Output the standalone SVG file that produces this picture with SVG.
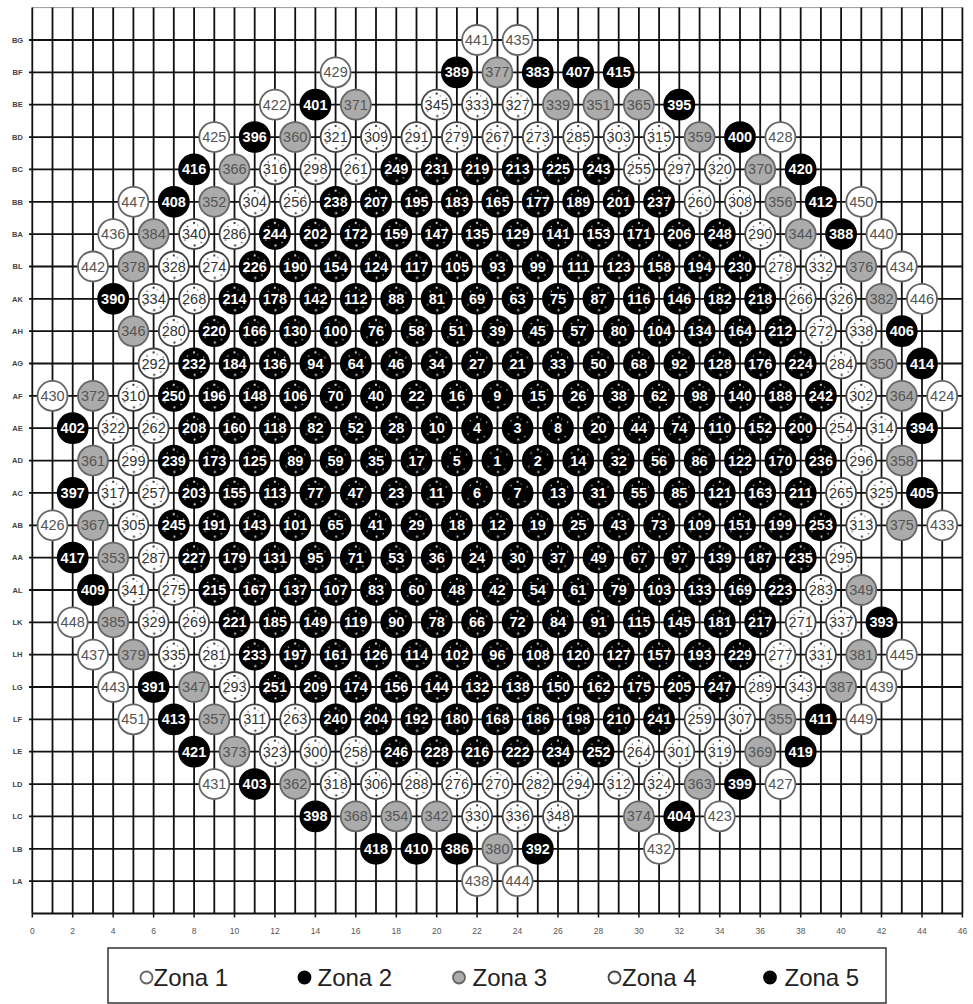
<svg xmlns="http://www.w3.org/2000/svg" width="973" height="1004" viewBox="0 0 973 1004">
<style>
text{font-family:"Liberation Sans",Arial,sans-serif;text-anchor:middle}
.nodes text{font-size:14.5px}
.nodes circle{stroke-width:1.8}
.z1 circle{fill:#fff;stroke:#666}
.z1 text{fill:#555}
.z2 circle{fill:#000;stroke:#000}
.z2 text{fill:#fff;font-weight:bold}
.z3 circle{fill:#ababab;stroke:#666}
.z3 text{fill:#555}
.z4 circle{fill:url(#p4);stroke:#444}
.z4 text{fill:#333}
.z5 circle{fill:url(#p5);stroke:#000}
.z5 text{fill:#fff;font-weight:bold}
.rl{font-size:7.5px;font-weight:bold;fill:#444}
.ax{font-size:8.5px;fill:#555}
.lg{font-size:24px;fill:#222;text-anchor:start}
</style>
<defs>
<pattern id="p4" patternUnits="objectBoundingBox" patternContentUnits="objectBoundingBox" width="1" height="1">
<rect width="1" height="1" fill="#fff"/>
<g fill="#222"><circle cx=".5" cy=".13" r=".035"/><circle cx=".52" cy=".88" r=".035"/><circle cx=".28" cy=".25" r=".025"/><circle cx=".74" cy=".78" r=".025"/><circle cx=".2" cy=".7" r=".025"/><circle cx=".82" cy=".3" r=".025"/><circle cx=".62" cy=".2" r=".02"/></g>
</pattern>
<pattern id="p5" patternUnits="objectBoundingBox" patternContentUnits="objectBoundingBox" width="1" height="1">
<rect width="1" height="1" fill="#000"/>
<g fill="#ddd"><circle cx=".5" cy=".13" r=".035"/><circle cx=".52" cy=".88" r=".035"/><circle cx=".28" cy=".25" r=".025"/><circle cx=".74" cy=".78" r=".025"/><circle cx=".2" cy=".7" r=".025"/><circle cx=".82" cy=".3" r=".025"/><circle cx=".62" cy=".2" r=".02"/></g>
</pattern>
</defs>
<rect width="973" height="1004" fill="#fff"/>
<g id="connectors">
<path d="M32.3 7.6H962.4" stroke="#999" stroke-width="1" fill="none"/>
<path stroke="#111" stroke-width="1.8" fill="none" d="M29 40H962.4M29 72.4H962.4M29 104.7H962.4M29 137.1H962.4M29 169.4H962.4M29 201.8H962.4M29 234.1H962.4M29 266.5H962.4M29 298.8H962.4M29 331.2H962.4M29 363.5H962.4M29 395.9H962.4M29 428.2H962.4M29 460.6H962.4M29 492.9H962.4M29 525.3H962.4M29 557.6H962.4M29 590H962.4M29 622.3H962.4M29 654.7H962.4M29 687H962.4M29 719.4H962.4M29 751.7H962.4M29 784.1H962.4M29 816.4H962.4M29 848.8H962.4M29 881.1H962.4M32.3 913.5H962.4"/>
<path stroke="#111" stroke-width="1.8" fill="none" d="M32.3 7.6v906M52.5 7.6v906M72.7 7.6v906M93 7.6v906M113.2 7.6v906M133.4 7.6v906M153.6 7.6v906M173.8 7.6v906M194.1 7.6v906M214.3 7.6v906M234.5 7.6v906M254.7 7.6v906M274.9 7.6v906M295.2 7.6v906M315.4 7.6v906M335.6 7.6v906M355.8 7.6v906M376 7.6v906M396.3 7.6v906M416.5 7.6v906M436.7 7.6v906M456.9 7.6v906M477.1 7.6v906M497.4 7.6v906M517.6 7.6v906M537.8 7.6v906M558 7.6v906M578.2 7.6v906M598.5 7.6v906M618.7 7.6v906M638.9 7.6v906M659.1 7.6v906M679.3 7.6v906M699.6 7.6v906M719.8 7.6v906M740 7.6v906M760.2 7.6v906M780.4 7.6v906M800.7 7.6v906M820.9 7.6v906M841.1 7.6v906M861.3 7.6v906M881.5 7.6v906M901.8 7.6v906M922 7.6v906M942.2 7.6v906M962.4 7.6v906"/>
<path stroke="#111" stroke-width="1.5" fill="none" d="M32.3 913.5v4M72.7 913.5v4M113.2 913.5v4M153.6 913.5v4M194.1 913.5v4M234.5 913.5v4M274.9 913.5v4M315.4 913.5v4M355.8 913.5v4M396.3 913.5v4M436.7 913.5v4M477.1 913.5v4M517.6 913.5v4M558 913.5v4M598.5 913.5v4M638.9 913.5v4M679.3 913.5v4M719.8 913.5v4M760.2 913.5v4M800.7 913.5v4M841.1 913.5v4M881.5 913.5v4M922 913.5v4M962.4 913.5v4"/>
</g>
<g id="row-labels" class="rl">
<text x="17.5" y="42.7">BG</text><text x="17.5" y="75.1">BF</text><text x="17.5" y="107.4">BE</text><text x="17.5" y="139.8">BD</text><text x="17.5" y="172.1">BC</text><text x="17.5" y="204.5">BB</text><text x="17.5" y="236.8">BA</text><text x="17.5" y="269.2">BL</text><text x="17.5" y="301.5">AK</text><text x="17.5" y="333.9">AH</text><text x="17.5" y="366.2">AG</text><text x="17.5" y="398.6">AF</text><text x="17.5" y="430.9">AE</text><text x="17.5" y="463.3">AD</text><text x="17.5" y="495.6">AC</text><text x="17.5" y="528">AB</text><text x="17.5" y="560.3">AA</text><text x="17.5" y="592.7">AL</text><text x="17.5" y="625">LK</text><text x="17.5" y="657.4">LH</text><text x="17.5" y="689.7">LG</text><text x="17.5" y="722.1">LF</text><text x="17.5" y="754.4">LE</text><text x="17.5" y="786.8">LD</text><text x="17.5" y="819.1">LC</text><text x="17.5" y="851.5">LB</text><text x="17.5" y="883.8">LA</text>
</g>
<g id="axis-labels" class="ax">
<text x="32.3" y="934">0</text><text x="72.7" y="934">2</text><text x="113.2" y="934">4</text><text x="153.6" y="934">6</text><text x="194.1" y="934">8</text><text x="234.5" y="934">10</text><text x="274.9" y="934">12</text><text x="315.4" y="934">14</text><text x="355.8" y="934">16</text><text x="396.3" y="934">18</text><text x="436.7" y="934">20</text><text x="477.1" y="934">22</text><text x="517.6" y="934">24</text><text x="558" y="934">26</text><text x="598.5" y="934">28</text><text x="638.9" y="934">30</text><text x="679.3" y="934">32</text><text x="719.8" y="934">34</text><text x="760.2" y="934">36</text><text x="800.7" y="934">38</text><text x="841.1" y="934">40</text><text x="881.5" y="934">42</text><text x="922" y="934">44</text><text x="962.4" y="934">46</text>
</g>
<g class="nodes">
<g id="n441" class="z1" transform="translate(477.1,40)"><circle r="15"/><text y="5">441</text></g>
<g id="n435" class="z1" transform="translate(517.6,40)"><circle r="15"/><text y="5">435</text></g>
<g id="n429" class="z1" transform="translate(335.6,72.4)"><circle r="15"/><text y="5">429</text></g>
<g id="n389" class="z2" transform="translate(456.9,72.4)"><circle r="15"/><text y="5">389</text></g>
<g id="n377" class="z3" transform="translate(497.4,72.4)"><circle r="15"/><text y="5">377</text></g>
<g id="n383" class="z2" transform="translate(537.8,72.4)"><circle r="15"/><text y="5">383</text></g>
<g id="n407" class="z2" transform="translate(578.2,72.4)"><circle r="15"/><text y="5">407</text></g>
<g id="n415" class="z2" transform="translate(618.7,72.4)"><circle r="15"/><text y="5">415</text></g>
<g id="n422" class="z1" transform="translate(274.9,104.7)"><circle r="15"/><text y="5">422</text></g>
<g id="n401" class="z2" transform="translate(315.4,104.7)"><circle r="15"/><text y="5">401</text></g>
<g id="n371" class="z3" transform="translate(355.8,104.7)"><circle r="15"/><text y="5">371</text></g>
<g id="n345" class="z4" transform="translate(436.7,104.7)"><circle r="15"/><text y="5">345</text></g>
<g id="n333" class="z4" transform="translate(477.1,104.7)"><circle r="15"/><text y="5">333</text></g>
<g id="n327" class="z4" transform="translate(517.6,104.7)"><circle r="15"/><text y="5">327</text></g>
<g id="n339" class="z3" transform="translate(558,104.7)"><circle r="15"/><text y="5">339</text></g>
<g id="n351" class="z3" transform="translate(598.5,104.7)"><circle r="15"/><text y="5">351</text></g>
<g id="n365" class="z3" transform="translate(638.9,104.7)"><circle r="15"/><text y="5">365</text></g>
<g id="n395" class="z2" transform="translate(679.3,104.7)"><circle r="15"/><text y="5">395</text></g>
<g id="n425" class="z1" transform="translate(214.3,137.1)"><circle r="15"/><text y="5">425</text></g>
<g id="n396" class="z2" transform="translate(254.7,137.1)"><circle r="15"/><text y="5">396</text></g>
<g id="n360" class="z3" transform="translate(295.2,137.1)"><circle r="15"/><text y="5">360</text></g>
<g id="n321" class="z4" transform="translate(335.6,137.1)"><circle r="15"/><text y="5">321</text></g>
<g id="n309" class="z4" transform="translate(376,137.1)"><circle r="15"/><text y="5">309</text></g>
<g id="n291" class="z4" transform="translate(416.5,137.1)"><circle r="15"/><text y="5">291</text></g>
<g id="n279" class="z4" transform="translate(456.9,137.1)"><circle r="15"/><text y="5">279</text></g>
<g id="n267" class="z4" transform="translate(497.4,137.1)"><circle r="15"/><text y="5">267</text></g>
<g id="n273" class="z4" transform="translate(537.8,137.1)"><circle r="15"/><text y="5">273</text></g>
<g id="n285" class="z4" transform="translate(578.2,137.1)"><circle r="15"/><text y="5">285</text></g>
<g id="n303" class="z4" transform="translate(618.7,137.1)"><circle r="15"/><text y="5">303</text></g>
<g id="n315" class="z4" transform="translate(659.1,137.1)"><circle r="15"/><text y="5">315</text></g>
<g id="n359" class="z3" transform="translate(699.6,137.1)"><circle r="15"/><text y="5">359</text></g>
<g id="n400" class="z2" transform="translate(740,137.1)"><circle r="15"/><text y="5">400</text></g>
<g id="n428" class="z1" transform="translate(780.4,137.1)"><circle r="15"/><text y="5">428</text></g>
<g id="n416" class="z2" transform="translate(194.1,169.4)"><circle r="15"/><text y="5">416</text></g>
<g id="n366" class="z3" transform="translate(234.5,169.4)"><circle r="15"/><text y="5">366</text></g>
<g id="n316" class="z4" transform="translate(274.9,169.4)"><circle r="15"/><text y="5">316</text></g>
<g id="n298" class="z4" transform="translate(315.4,169.4)"><circle r="15"/><text y="5">298</text></g>
<g id="n261" class="z4" transform="translate(355.8,169.4)"><circle r="15"/><text y="5">261</text></g>
<g id="n249" class="z5" transform="translate(396.3,169.4)"><circle r="15"/><text y="5">249</text></g>
<g id="n231" class="z5" transform="translate(436.7,169.4)"><circle r="15"/><text y="5">231</text></g>
<g id="n219" class="z5" transform="translate(477.1,169.4)"><circle r="15"/><text y="5">219</text></g>
<g id="n213" class="z5" transform="translate(517.6,169.4)"><circle r="15"/><text y="5">213</text></g>
<g id="n225" class="z5" transform="translate(558,169.4)"><circle r="15"/><text y="5">225</text></g>
<g id="n243" class="z5" transform="translate(598.5,169.4)"><circle r="15"/><text y="5">243</text></g>
<g id="n255" class="z4" transform="translate(638.9,169.4)"><circle r="15"/><text y="5">255</text></g>
<g id="n297" class="z4" transform="translate(679.3,169.4)"><circle r="15"/><text y="5">297</text></g>
<g id="n320" class="z4" transform="translate(719.8,169.4)"><circle r="15"/><text y="5">320</text></g>
<g id="n370" class="z3" transform="translate(760.2,169.4)"><circle r="15"/><text y="5">370</text></g>
<g id="n420" class="z2" transform="translate(800.7,169.4)"><circle r="15"/><text y="5">420</text></g>
<g id="n447" class="z1" transform="translate(133.4,201.8)"><circle r="15"/><text y="5">447</text></g>
<g id="n408" class="z2" transform="translate(173.8,201.8)"><circle r="15"/><text y="5">408</text></g>
<g id="n352" class="z3" transform="translate(214.3,201.8)"><circle r="15"/><text y="5">352</text></g>
<g id="n304" class="z4" transform="translate(254.7,201.8)"><circle r="15"/><text y="5">304</text></g>
<g id="n256" class="z4" transform="translate(295.2,201.8)"><circle r="15"/><text y="5">256</text></g>
<g id="n238" class="z5" transform="translate(335.6,201.8)"><circle r="15"/><text y="5">238</text></g>
<g id="n207" class="z5" transform="translate(376,201.8)"><circle r="15"/><text y="5">207</text></g>
<g id="n195" class="z5" transform="translate(416.5,201.8)"><circle r="15"/><text y="5">195</text></g>
<g id="n183" class="z5" transform="translate(456.9,201.8)"><circle r="15"/><text y="5">183</text></g>
<g id="n165" class="z5" transform="translate(497.4,201.8)"><circle r="15"/><text y="5">165</text></g>
<g id="n177" class="z5" transform="translate(537.8,201.8)"><circle r="15"/><text y="5">177</text></g>
<g id="n189" class="z5" transform="translate(578.2,201.8)"><circle r="15"/><text y="5">189</text></g>
<g id="n201" class="z5" transform="translate(618.7,201.8)"><circle r="15"/><text y="5">201</text></g>
<g id="n237" class="z5" transform="translate(659.1,201.8)"><circle r="15"/><text y="5">237</text></g>
<g id="n260" class="z4" transform="translate(699.6,201.8)"><circle r="15"/><text y="5">260</text></g>
<g id="n308" class="z4" transform="translate(740,201.8)"><circle r="15"/><text y="5">308</text></g>
<g id="n356" class="z3" transform="translate(780.4,201.8)"><circle r="15"/><text y="5">356</text></g>
<g id="n412" class="z2" transform="translate(820.9,201.8)"><circle r="15"/><text y="5">412</text></g>
<g id="n450" class="z1" transform="translate(861.3,201.8)"><circle r="15"/><text y="5">450</text></g>
<g id="n436" class="z1" transform="translate(113.2,234.1)"><circle r="15"/><text y="5">436</text></g>
<g id="n384" class="z3" transform="translate(153.6,234.1)"><circle r="15"/><text y="5">384</text></g>
<g id="n340" class="z4" transform="translate(194.1,234.1)"><circle r="15"/><text y="5">340</text></g>
<g id="n286" class="z4" transform="translate(234.5,234.1)"><circle r="15"/><text y="5">286</text></g>
<g id="n244" class="z5" transform="translate(274.9,234.1)"><circle r="15"/><text y="5">244</text></g>
<g id="n202" class="z5" transform="translate(315.4,234.1)"><circle r="15"/><text y="5">202</text></g>
<g id="n172" class="z5" transform="translate(355.8,234.1)"><circle r="15"/><text y="5">172</text></g>
<g id="n159" class="z5" transform="translate(396.3,234.1)"><circle r="15"/><text y="5">159</text></g>
<g id="n147" class="z5" transform="translate(436.7,234.1)"><circle r="15"/><text y="5">147</text></g>
<g id="n135" class="z5" transform="translate(477.1,234.1)"><circle r="15"/><text y="5">135</text></g>
<g id="n129" class="z5" transform="translate(517.6,234.1)"><circle r="15"/><text y="5">129</text></g>
<g id="n141" class="z5" transform="translate(558,234.1)"><circle r="15"/><text y="5">141</text></g>
<g id="n153" class="z5" transform="translate(598.5,234.1)"><circle r="15"/><text y="5">153</text></g>
<g id="n171" class="z5" transform="translate(638.9,234.1)"><circle r="15"/><text y="5">171</text></g>
<g id="n206" class="z5" transform="translate(679.3,234.1)"><circle r="15"/><text y="5">206</text></g>
<g id="n248" class="z5" transform="translate(719.8,234.1)"><circle r="15"/><text y="5">248</text></g>
<g id="n290" class="z4" transform="translate(760.2,234.1)"><circle r="15"/><text y="5">290</text></g>
<g id="n344" class="z3" transform="translate(800.7,234.1)"><circle r="15"/><text y="5">344</text></g>
<g id="n388" class="z2" transform="translate(841.1,234.1)"><circle r="15"/><text y="5">388</text></g>
<g id="n440" class="z1" transform="translate(881.5,234.1)"><circle r="15"/><text y="5">440</text></g>
<g id="n442" class="z1" transform="translate(93,266.5)"><circle r="15"/><text y="5">442</text></g>
<g id="n378" class="z3" transform="translate(133.4,266.5)"><circle r="15"/><text y="5">378</text></g>
<g id="n328" class="z4" transform="translate(173.8,266.5)"><circle r="15"/><text y="5">328</text></g>
<g id="n274" class="z4" transform="translate(214.3,266.5)"><circle r="15"/><text y="5">274</text></g>
<g id="n226" class="z5" transform="translate(254.7,266.5)"><circle r="15"/><text y="5">226</text></g>
<g id="n190" class="z5" transform="translate(295.2,266.5)"><circle r="15"/><text y="5">190</text></g>
<g id="n154" class="z5" transform="translate(335.6,266.5)"><circle r="15"/><text y="5">154</text></g>
<g id="n124" class="z5" transform="translate(376,266.5)"><circle r="15"/><text y="5">124</text></g>
<g id="n117" class="z5" transform="translate(416.5,266.5)"><circle r="15"/><text y="5">117</text></g>
<g id="n105" class="z5" transform="translate(456.9,266.5)"><circle r="15"/><text y="5">105</text></g>
<g id="n93" class="z5" transform="translate(497.4,266.5)"><circle r="15"/><text y="5">93</text></g>
<g id="n99" class="z5" transform="translate(537.8,266.5)"><circle r="15"/><text y="5">99</text></g>
<g id="n111" class="z5" transform="translate(578.2,266.5)"><circle r="15"/><text y="5">111</text></g>
<g id="n123" class="z5" transform="translate(618.7,266.5)"><circle r="15"/><text y="5">123</text></g>
<g id="n158" class="z5" transform="translate(659.1,266.5)"><circle r="15"/><text y="5">158</text></g>
<g id="n194" class="z5" transform="translate(699.6,266.5)"><circle r="15"/><text y="5">194</text></g>
<g id="n230" class="z5" transform="translate(740,266.5)"><circle r="15"/><text y="5">230</text></g>
<g id="n278" class="z4" transform="translate(780.4,266.5)"><circle r="15"/><text y="5">278</text></g>
<g id="n332" class="z4" transform="translate(820.9,266.5)"><circle r="15"/><text y="5">332</text></g>
<g id="n376" class="z3" transform="translate(861.3,266.5)"><circle r="15"/><text y="5">376</text></g>
<g id="n434" class="z1" transform="translate(901.8,266.5)"><circle r="15"/><text y="5">434</text></g>
<g id="n390" class="z2" transform="translate(113.2,298.8)"><circle r="15"/><text y="5">390</text></g>
<g id="n334" class="z4" transform="translate(153.6,298.8)"><circle r="15"/><text y="5">334</text></g>
<g id="n268" class="z4" transform="translate(194.1,298.8)"><circle r="15"/><text y="5">268</text></g>
<g id="n214" class="z5" transform="translate(234.5,298.8)"><circle r="15"/><text y="5">214</text></g>
<g id="n178" class="z5" transform="translate(274.9,298.8)"><circle r="15"/><text y="5">178</text></g>
<g id="n142" class="z5" transform="translate(315.4,298.8)"><circle r="15"/><text y="5">142</text></g>
<g id="n112" class="z5" transform="translate(355.8,298.8)"><circle r="15"/><text y="5">112</text></g>
<g id="n88" class="z5" transform="translate(396.3,298.8)"><circle r="15"/><text y="5">88</text></g>
<g id="n81" class="z5" transform="translate(436.7,298.8)"><circle r="15"/><text y="5">81</text></g>
<g id="n69" class="z5" transform="translate(477.1,298.8)"><circle r="15"/><text y="5">69</text></g>
<g id="n63" class="z5" transform="translate(517.6,298.8)"><circle r="15"/><text y="5">63</text></g>
<g id="n75" class="z5" transform="translate(558,298.8)"><circle r="15"/><text y="5">75</text></g>
<g id="n87" class="z5" transform="translate(598.5,298.8)"><circle r="15"/><text y="5">87</text></g>
<g id="n116" class="z5" transform="translate(638.9,298.8)"><circle r="15"/><text y="5">116</text></g>
<g id="n146" class="z5" transform="translate(679.3,298.8)"><circle r="15"/><text y="5">146</text></g>
<g id="n182" class="z5" transform="translate(719.8,298.8)"><circle r="15"/><text y="5">182</text></g>
<g id="n218" class="z5" transform="translate(760.2,298.8)"><circle r="15"/><text y="5">218</text></g>
<g id="n266" class="z4" transform="translate(800.7,298.8)"><circle r="15"/><text y="5">266</text></g>
<g id="n326" class="z4" transform="translate(841.1,298.8)"><circle r="15"/><text y="5">326</text></g>
<g id="n382" class="z3" transform="translate(881.5,298.8)"><circle r="15"/><text y="5">382</text></g>
<g id="n446" class="z1" transform="translate(922,298.8)"><circle r="15"/><text y="5">446</text></g>
<g id="n346" class="z3" transform="translate(133.4,331.2)"><circle r="15"/><text y="5">346</text></g>
<g id="n280" class="z4" transform="translate(173.8,331.2)"><circle r="15"/><text y="5">280</text></g>
<g id="n220" class="z5" transform="translate(214.3,331.2)"><circle r="15"/><text y="5">220</text></g>
<g id="n166" class="z5" transform="translate(254.7,331.2)"><circle r="15"/><text y="5">166</text></g>
<g id="n130" class="z5" transform="translate(295.2,331.2)"><circle r="15"/><text y="5">130</text></g>
<g id="n100" class="z5" transform="translate(335.6,331.2)"><circle r="15"/><text y="5">100</text></g>
<g id="n76" class="z5" transform="translate(376,331.2)"><circle r="15"/><text y="5">76</text></g>
<g id="n58" class="z5" transform="translate(416.5,331.2)"><circle r="15"/><text y="5">58</text></g>
<g id="n51" class="z5" transform="translate(456.9,331.2)"><circle r="15"/><text y="5">51</text></g>
<g id="n39" class="z5" transform="translate(497.4,331.2)"><circle r="15"/><text y="5">39</text></g>
<g id="n45" class="z5" transform="translate(537.8,331.2)"><circle r="15"/><text y="5">45</text></g>
<g id="n57" class="z5" transform="translate(578.2,331.2)"><circle r="15"/><text y="5">57</text></g>
<g id="n80" class="z5" transform="translate(618.7,331.2)"><circle r="15"/><text y="5">80</text></g>
<g id="n104" class="z5" transform="translate(659.1,331.2)"><circle r="15"/><text y="5">104</text></g>
<g id="n134" class="z5" transform="translate(699.6,331.2)"><circle r="15"/><text y="5">134</text></g>
<g id="n164" class="z5" transform="translate(740,331.2)"><circle r="15"/><text y="5">164</text></g>
<g id="n212" class="z5" transform="translate(780.4,331.2)"><circle r="15"/><text y="5">212</text></g>
<g id="n272" class="z4" transform="translate(820.9,331.2)"><circle r="15"/><text y="5">272</text></g>
<g id="n338" class="z4" transform="translate(861.3,331.2)"><circle r="15"/><text y="5">338</text></g>
<g id="n406" class="z2" transform="translate(901.8,331.2)"><circle r="15"/><text y="5">406</text></g>
<g id="n292" class="z4" transform="translate(153.6,363.5)"><circle r="15"/><text y="5">292</text></g>
<g id="n232" class="z5" transform="translate(194.1,363.5)"><circle r="15"/><text y="5">232</text></g>
<g id="n184" class="z5" transform="translate(234.5,363.5)"><circle r="15"/><text y="5">184</text></g>
<g id="n136" class="z5" transform="translate(274.9,363.5)"><circle r="15"/><text y="5">136</text></g>
<g id="n94" class="z5" transform="translate(315.4,363.5)"><circle r="15"/><text y="5">94</text></g>
<g id="n64" class="z5" transform="translate(355.8,363.5)"><circle r="15"/><text y="5">64</text></g>
<g id="n46" class="z5" transform="translate(396.3,363.5)"><circle r="15"/><text y="5">46</text></g>
<g id="n34" class="z5" transform="translate(436.7,363.5)"><circle r="15"/><text y="5">34</text></g>
<g id="n27" class="z5" transform="translate(477.1,363.5)"><circle r="15"/><text y="5">27</text></g>
<g id="n21" class="z5" transform="translate(517.6,363.5)"><circle r="15"/><text y="5">21</text></g>
<g id="n33" class="z5" transform="translate(558,363.5)"><circle r="15"/><text y="5">33</text></g>
<g id="n50" class="z5" transform="translate(598.5,363.5)"><circle r="15"/><text y="5">50</text></g>
<g id="n68" class="z5" transform="translate(638.9,363.5)"><circle r="15"/><text y="5">68</text></g>
<g id="n92" class="z5" transform="translate(679.3,363.5)"><circle r="15"/><text y="5">92</text></g>
<g id="n128" class="z5" transform="translate(719.8,363.5)"><circle r="15"/><text y="5">128</text></g>
<g id="n176" class="z5" transform="translate(760.2,363.5)"><circle r="15"/><text y="5">176</text></g>
<g id="n224" class="z5" transform="translate(800.7,363.5)"><circle r="15"/><text y="5">224</text></g>
<g id="n284" class="z4" transform="translate(841.1,363.5)"><circle r="15"/><text y="5">284</text></g>
<g id="n350" class="z3" transform="translate(881.5,363.5)"><circle r="15"/><text y="5">350</text></g>
<g id="n414" class="z2" transform="translate(922,363.5)"><circle r="15"/><text y="5">414</text></g>
<g id="n430" class="z1" transform="translate(52.5,395.9)"><circle r="15"/><text y="5">430</text></g>
<g id="n372" class="z3" transform="translate(93,395.9)"><circle r="15"/><text y="5">372</text></g>
<g id="n310" class="z4" transform="translate(133.4,395.9)"><circle r="15"/><text y="5">310</text></g>
<g id="n250" class="z5" transform="translate(173.8,395.9)"><circle r="15"/><text y="5">250</text></g>
<g id="n196" class="z5" transform="translate(214.3,395.9)"><circle r="15"/><text y="5">196</text></g>
<g id="n148" class="z5" transform="translate(254.7,395.9)"><circle r="15"/><text y="5">148</text></g>
<g id="n106" class="z5" transform="translate(295.2,395.9)"><circle r="15"/><text y="5">106</text></g>
<g id="n70" class="z5" transform="translate(335.6,395.9)"><circle r="15"/><text y="5">70</text></g>
<g id="n40" class="z5" transform="translate(376,395.9)"><circle r="15"/><text y="5">40</text></g>
<g id="n22" class="z5" transform="translate(416.5,395.9)"><circle r="15"/><text y="5">22</text></g>
<g id="n16" class="z5" transform="translate(456.9,395.9)"><circle r="15"/><text y="5">16</text></g>
<g id="n9" class="z5" transform="translate(497.4,395.9)"><circle r="15"/><text y="5">9</text></g>
<g id="n15" class="z5" transform="translate(537.8,395.9)"><circle r="15"/><text y="5">15</text></g>
<g id="n26" class="z5" transform="translate(578.2,395.9)"><circle r="15"/><text y="5">26</text></g>
<g id="n38" class="z5" transform="translate(618.7,395.9)"><circle r="15"/><text y="5">38</text></g>
<g id="n62" class="z5" transform="translate(659.1,395.9)"><circle r="15"/><text y="5">62</text></g>
<g id="n98" class="z5" transform="translate(699.6,395.9)"><circle r="15"/><text y="5">98</text></g>
<g id="n140" class="z5" transform="translate(740,395.9)"><circle r="15"/><text y="5">140</text></g>
<g id="n188" class="z5" transform="translate(780.4,395.9)"><circle r="15"/><text y="5">188</text></g>
<g id="n242" class="z5" transform="translate(820.9,395.9)"><circle r="15"/><text y="5">242</text></g>
<g id="n302" class="z4" transform="translate(861.3,395.9)"><circle r="15"/><text y="5">302</text></g>
<g id="n364" class="z3" transform="translate(901.8,395.9)"><circle r="15"/><text y="5">364</text></g>
<g id="n424" class="z1" transform="translate(942.2,395.9)"><circle r="15"/><text y="5">424</text></g>
<g id="n402" class="z2" transform="translate(72.7,428.2)"><circle r="15"/><text y="5">402</text></g>
<g id="n322" class="z4" transform="translate(113.2,428.2)"><circle r="15"/><text y="5">322</text></g>
<g id="n262" class="z4" transform="translate(153.6,428.2)"><circle r="15"/><text y="5">262</text></g>
<g id="n208" class="z5" transform="translate(194.1,428.2)"><circle r="15"/><text y="5">208</text></g>
<g id="n160" class="z5" transform="translate(234.5,428.2)"><circle r="15"/><text y="5">160</text></g>
<g id="n118" class="z5" transform="translate(274.9,428.2)"><circle r="15"/><text y="5">118</text></g>
<g id="n82" class="z5" transform="translate(315.4,428.2)"><circle r="15"/><text y="5">82</text></g>
<g id="n52" class="z5" transform="translate(355.8,428.2)"><circle r="15"/><text y="5">52</text></g>
<g id="n28" class="z5" transform="translate(396.3,428.2)"><circle r="15"/><text y="5">28</text></g>
<g id="n10" class="z5" transform="translate(436.7,428.2)"><circle r="15"/><text y="5">10</text></g>
<g id="n4" class="z5" transform="translate(477.1,428.2)"><circle r="15"/><text y="5">4</text></g>
<g id="n3" class="z5" transform="translate(517.6,428.2)"><circle r="15"/><text y="5">3</text></g>
<g id="n8" class="z5" transform="translate(558,428.2)"><circle r="15"/><text y="5">8</text></g>
<g id="n20" class="z5" transform="translate(598.5,428.2)"><circle r="15"/><text y="5">20</text></g>
<g id="n44" class="z5" transform="translate(638.9,428.2)"><circle r="15"/><text y="5">44</text></g>
<g id="n74" class="z5" transform="translate(679.3,428.2)"><circle r="15"/><text y="5">74</text></g>
<g id="n110" class="z5" transform="translate(719.8,428.2)"><circle r="15"/><text y="5">110</text></g>
<g id="n152" class="z5" transform="translate(760.2,428.2)"><circle r="15"/><text y="5">152</text></g>
<g id="n200" class="z5" transform="translate(800.7,428.2)"><circle r="15"/><text y="5">200</text></g>
<g id="n254" class="z4" transform="translate(841.1,428.2)"><circle r="15"/><text y="5">254</text></g>
<g id="n314" class="z4" transform="translate(881.5,428.2)"><circle r="15"/><text y="5">314</text></g>
<g id="n394" class="z2" transform="translate(922,428.2)"><circle r="15"/><text y="5">394</text></g>
<g id="n361" class="z3" transform="translate(93,460.6)"><circle r="15"/><text y="5">361</text></g>
<g id="n299" class="z4" transform="translate(133.4,460.6)"><circle r="15"/><text y="5">299</text></g>
<g id="n239" class="z5" transform="translate(173.8,460.6)"><circle r="15"/><text y="5">239</text></g>
<g id="n173" class="z5" transform="translate(214.3,460.6)"><circle r="15"/><text y="5">173</text></g>
<g id="n125" class="z5" transform="translate(254.7,460.6)"><circle r="15"/><text y="5">125</text></g>
<g id="n89" class="z5" transform="translate(295.2,460.6)"><circle r="15"/><text y="5">89</text></g>
<g id="n59" class="z5" transform="translate(335.6,460.6)"><circle r="15"/><text y="5">59</text></g>
<g id="n35" class="z5" transform="translate(376,460.6)"><circle r="15"/><text y="5">35</text></g>
<g id="n17" class="z5" transform="translate(416.5,460.6)"><circle r="15"/><text y="5">17</text></g>
<g id="n5" class="z5" transform="translate(456.9,460.6)"><circle r="15"/><text y="5">5</text></g>
<g id="n1" class="z5" transform="translate(497.4,460.6)"><circle r="15"/><text y="5">1</text></g>
<g id="n2" class="z5" transform="translate(537.8,460.6)"><circle r="15"/><text y="5">2</text></g>
<g id="n14" class="z5" transform="translate(578.2,460.6)"><circle r="15"/><text y="5">14</text></g>
<g id="n32" class="z5" transform="translate(618.7,460.6)"><circle r="15"/><text y="5">32</text></g>
<g id="n56" class="z5" transform="translate(659.1,460.6)"><circle r="15"/><text y="5">56</text></g>
<g id="n86" class="z5" transform="translate(699.6,460.6)"><circle r="15"/><text y="5">86</text></g>
<g id="n122" class="z5" transform="translate(740,460.6)"><circle r="15"/><text y="5">122</text></g>
<g id="n170" class="z5" transform="translate(780.4,460.6)"><circle r="15"/><text y="5">170</text></g>
<g id="n236" class="z5" transform="translate(820.9,460.6)"><circle r="15"/><text y="5">236</text></g>
<g id="n296" class="z4" transform="translate(861.3,460.6)"><circle r="15"/><text y="5">296</text></g>
<g id="n358" class="z3" transform="translate(901.8,460.6)"><circle r="15"/><text y="5">358</text></g>
<g id="n397" class="z2" transform="translate(72.7,492.9)"><circle r="15"/><text y="5">397</text></g>
<g id="n317" class="z4" transform="translate(113.2,492.9)"><circle r="15"/><text y="5">317</text></g>
<g id="n257" class="z4" transform="translate(153.6,492.9)"><circle r="15"/><text y="5">257</text></g>
<g id="n203" class="z5" transform="translate(194.1,492.9)"><circle r="15"/><text y="5">203</text></g>
<g id="n155" class="z5" transform="translate(234.5,492.9)"><circle r="15"/><text y="5">155</text></g>
<g id="n113" class="z5" transform="translate(274.9,492.9)"><circle r="15"/><text y="5">113</text></g>
<g id="n77" class="z5" transform="translate(315.4,492.9)"><circle r="15"/><text y="5">77</text></g>
<g id="n47" class="z5" transform="translate(355.8,492.9)"><circle r="15"/><text y="5">47</text></g>
<g id="n23" class="z5" transform="translate(396.3,492.9)"><circle r="15"/><text y="5">23</text></g>
<g id="n11" class="z5" transform="translate(436.7,492.9)"><circle r="15"/><text y="5">11</text></g>
<g id="n6" class="z5" transform="translate(477.1,492.9)"><circle r="15"/><text y="5">6</text></g>
<g id="n7" class="z5" transform="translate(517.6,492.9)"><circle r="15"/><text y="5">7</text></g>
<g id="n13" class="z5" transform="translate(558,492.9)"><circle r="15"/><text y="5">13</text></g>
<g id="n31" class="z5" transform="translate(598.5,492.9)"><circle r="15"/><text y="5">31</text></g>
<g id="n55" class="z5" transform="translate(638.9,492.9)"><circle r="15"/><text y="5">55</text></g>
<g id="n85" class="z5" transform="translate(679.3,492.9)"><circle r="15"/><text y="5">85</text></g>
<g id="n121" class="z5" transform="translate(719.8,492.9)"><circle r="15"/><text y="5">121</text></g>
<g id="n163" class="z5" transform="translate(760.2,492.9)"><circle r="15"/><text y="5">163</text></g>
<g id="n211" class="z5" transform="translate(800.7,492.9)"><circle r="15"/><text y="5">211</text></g>
<g id="n265" class="z4" transform="translate(841.1,492.9)"><circle r="15"/><text y="5">265</text></g>
<g id="n325" class="z4" transform="translate(881.5,492.9)"><circle r="15"/><text y="5">325</text></g>
<g id="n405" class="z2" transform="translate(922,492.9)"><circle r="15"/><text y="5">405</text></g>
<g id="n426" class="z1" transform="translate(52.5,525.3)"><circle r="15"/><text y="5">426</text></g>
<g id="n367" class="z3" transform="translate(93,525.3)"><circle r="15"/><text y="5">367</text></g>
<g id="n305" class="z4" transform="translate(133.4,525.3)"><circle r="15"/><text y="5">305</text></g>
<g id="n245" class="z5" transform="translate(173.8,525.3)"><circle r="15"/><text y="5">245</text></g>
<g id="n191" class="z5" transform="translate(214.3,525.3)"><circle r="15"/><text y="5">191</text></g>
<g id="n143" class="z5" transform="translate(254.7,525.3)"><circle r="15"/><text y="5">143</text></g>
<g id="n101" class="z5" transform="translate(295.2,525.3)"><circle r="15"/><text y="5">101</text></g>
<g id="n65" class="z5" transform="translate(335.6,525.3)"><circle r="15"/><text y="5">65</text></g>
<g id="n41" class="z5" transform="translate(376,525.3)"><circle r="15"/><text y="5">41</text></g>
<g id="n29" class="z5" transform="translate(416.5,525.3)"><circle r="15"/><text y="5">29</text></g>
<g id="n18" class="z5" transform="translate(456.9,525.3)"><circle r="15"/><text y="5">18</text></g>
<g id="n12" class="z5" transform="translate(497.4,525.3)"><circle r="15"/><text y="5">12</text></g>
<g id="n19" class="z5" transform="translate(537.8,525.3)"><circle r="15"/><text y="5">19</text></g>
<g id="n25" class="z5" transform="translate(578.2,525.3)"><circle r="15"/><text y="5">25</text></g>
<g id="n43" class="z5" transform="translate(618.7,525.3)"><circle r="15"/><text y="5">43</text></g>
<g id="n73" class="z5" transform="translate(659.1,525.3)"><circle r="15"/><text y="5">73</text></g>
<g id="n109" class="z5" transform="translate(699.6,525.3)"><circle r="15"/><text y="5">109</text></g>
<g id="n151" class="z5" transform="translate(740,525.3)"><circle r="15"/><text y="5">151</text></g>
<g id="n199" class="z5" transform="translate(780.4,525.3)"><circle r="15"/><text y="5">199</text></g>
<g id="n253" class="z5" transform="translate(820.9,525.3)"><circle r="15"/><text y="5">253</text></g>
<g id="n313" class="z4" transform="translate(861.3,525.3)"><circle r="15"/><text y="5">313</text></g>
<g id="n375" class="z3" transform="translate(901.8,525.3)"><circle r="15"/><text y="5">375</text></g>
<g id="n433" class="z1" transform="translate(942.2,525.3)"><circle r="15"/><text y="5">433</text></g>
<g id="n417" class="z2" transform="translate(72.7,557.6)"><circle r="15"/><text y="5">417</text></g>
<g id="n353" class="z3" transform="translate(113.2,557.6)"><circle r="15"/><text y="5">353</text></g>
<g id="n287" class="z4" transform="translate(153.6,557.6)"><circle r="15"/><text y="5">287</text></g>
<g id="n227" class="z5" transform="translate(194.1,557.6)"><circle r="15"/><text y="5">227</text></g>
<g id="n179" class="z5" transform="translate(234.5,557.6)"><circle r="15"/><text y="5">179</text></g>
<g id="n131" class="z5" transform="translate(274.9,557.6)"><circle r="15"/><text y="5">131</text></g>
<g id="n95" class="z5" transform="translate(315.4,557.6)"><circle r="15"/><text y="5">95</text></g>
<g id="n71" class="z5" transform="translate(355.8,557.6)"><circle r="15"/><text y="5">71</text></g>
<g id="n53" class="z5" transform="translate(396.3,557.6)"><circle r="15"/><text y="5">53</text></g>
<g id="n36" class="z5" transform="translate(436.7,557.6)"><circle r="15"/><text y="5">36</text></g>
<g id="n24" class="z5" transform="translate(477.1,557.6)"><circle r="15"/><text y="5">24</text></g>
<g id="n30" class="z5" transform="translate(517.6,557.6)"><circle r="15"/><text y="5">30</text></g>
<g id="n37" class="z5" transform="translate(558,557.6)"><circle r="15"/><text y="5">37</text></g>
<g id="n49" class="z5" transform="translate(598.5,557.6)"><circle r="15"/><text y="5">49</text></g>
<g id="n67" class="z5" transform="translate(638.9,557.6)"><circle r="15"/><text y="5">67</text></g>
<g id="n97" class="z5" transform="translate(679.3,557.6)"><circle r="15"/><text y="5">97</text></g>
<g id="n139" class="z5" transform="translate(719.8,557.6)"><circle r="15"/><text y="5">139</text></g>
<g id="n187" class="z5" transform="translate(760.2,557.6)"><circle r="15"/><text y="5">187</text></g>
<g id="n235" class="z5" transform="translate(800.7,557.6)"><circle r="15"/><text y="5">235</text></g>
<g id="n295" class="z4" transform="translate(841.1,557.6)"><circle r="15"/><text y="5">295</text></g>
<g id="n409" class="z2" transform="translate(93,590)"><circle r="15"/><text y="5">409</text></g>
<g id="n341" class="z4" transform="translate(133.4,590)"><circle r="15"/><text y="5">341</text></g>
<g id="n275" class="z4" transform="translate(173.8,590)"><circle r="15"/><text y="5">275</text></g>
<g id="n215" class="z5" transform="translate(214.3,590)"><circle r="15"/><text y="5">215</text></g>
<g id="n167" class="z5" transform="translate(254.7,590)"><circle r="15"/><text y="5">167</text></g>
<g id="n137" class="z5" transform="translate(295.2,590)"><circle r="15"/><text y="5">137</text></g>
<g id="n107" class="z5" transform="translate(335.6,590)"><circle r="15"/><text y="5">107</text></g>
<g id="n83" class="z5" transform="translate(376,590)"><circle r="15"/><text y="5">83</text></g>
<g id="n60" class="z5" transform="translate(416.5,590)"><circle r="15"/><text y="5">60</text></g>
<g id="n48" class="z5" transform="translate(456.9,590)"><circle r="15"/><text y="5">48</text></g>
<g id="n42" class="z5" transform="translate(497.4,590)"><circle r="15"/><text y="5">42</text></g>
<g id="n54" class="z5" transform="translate(537.8,590)"><circle r="15"/><text y="5">54</text></g>
<g id="n61" class="z5" transform="translate(578.2,590)"><circle r="15"/><text y="5">61</text></g>
<g id="n79" class="z5" transform="translate(618.7,590)"><circle r="15"/><text y="5">79</text></g>
<g id="n103" class="z5" transform="translate(659.1,590)"><circle r="15"/><text y="5">103</text></g>
<g id="n133" class="z5" transform="translate(699.6,590)"><circle r="15"/><text y="5">133</text></g>
<g id="n169" class="z5" transform="translate(740,590)"><circle r="15"/><text y="5">169</text></g>
<g id="n223" class="z5" transform="translate(780.4,590)"><circle r="15"/><text y="5">223</text></g>
<g id="n283" class="z4" transform="translate(820.9,590)"><circle r="15"/><text y="5">283</text></g>
<g id="n349" class="z3" transform="translate(861.3,590)"><circle r="15"/><text y="5">349</text></g>
<g id="n448" class="z1" transform="translate(72.7,622.3)"><circle r="15"/><text y="5">448</text></g>
<g id="n385" class="z3" transform="translate(113.2,622.3)"><circle r="15"/><text y="5">385</text></g>
<g id="n329" class="z4" transform="translate(153.6,622.3)"><circle r="15"/><text y="5">329</text></g>
<g id="n269" class="z4" transform="translate(194.1,622.3)"><circle r="15"/><text y="5">269</text></g>
<g id="n221" class="z5" transform="translate(234.5,622.3)"><circle r="15"/><text y="5">221</text></g>
<g id="n185" class="z5" transform="translate(274.9,622.3)"><circle r="15"/><text y="5">185</text></g>
<g id="n149" class="z5" transform="translate(315.4,622.3)"><circle r="15"/><text y="5">149</text></g>
<g id="n119" class="z5" transform="translate(355.8,622.3)"><circle r="15"/><text y="5">119</text></g>
<g id="n90" class="z5" transform="translate(396.3,622.3)"><circle r="15"/><text y="5">90</text></g>
<g id="n78" class="z5" transform="translate(436.7,622.3)"><circle r="15"/><text y="5">78</text></g>
<g id="n66" class="z5" transform="translate(477.1,622.3)"><circle r="15"/><text y="5">66</text></g>
<g id="n72" class="z5" transform="translate(517.6,622.3)"><circle r="15"/><text y="5">72</text></g>
<g id="n84" class="z5" transform="translate(558,622.3)"><circle r="15"/><text y="5">84</text></g>
<g id="n91" class="z5" transform="translate(598.5,622.3)"><circle r="15"/><text y="5">91</text></g>
<g id="n115" class="z5" transform="translate(638.9,622.3)"><circle r="15"/><text y="5">115</text></g>
<g id="n145" class="z5" transform="translate(679.3,622.3)"><circle r="15"/><text y="5">145</text></g>
<g id="n181" class="z5" transform="translate(719.8,622.3)"><circle r="15"/><text y="5">181</text></g>
<g id="n217" class="z5" transform="translate(760.2,622.3)"><circle r="15"/><text y="5">217</text></g>
<g id="n271" class="z4" transform="translate(800.7,622.3)"><circle r="15"/><text y="5">271</text></g>
<g id="n337" class="z4" transform="translate(841.1,622.3)"><circle r="15"/><text y="5">337</text></g>
<g id="n393" class="z2" transform="translate(881.5,622.3)"><circle r="15"/><text y="5">393</text></g>
<g id="n437" class="z1" transform="translate(93,654.7)"><circle r="15"/><text y="5">437</text></g>
<g id="n379" class="z3" transform="translate(133.4,654.7)"><circle r="15"/><text y="5">379</text></g>
<g id="n335" class="z4" transform="translate(173.8,654.7)"><circle r="15"/><text y="5">335</text></g>
<g id="n281" class="z4" transform="translate(214.3,654.7)"><circle r="15"/><text y="5">281</text></g>
<g id="n233" class="z5" transform="translate(254.7,654.7)"><circle r="15"/><text y="5">233</text></g>
<g id="n197" class="z5" transform="translate(295.2,654.7)"><circle r="15"/><text y="5">197</text></g>
<g id="n161" class="z5" transform="translate(335.6,654.7)"><circle r="15"/><text y="5">161</text></g>
<g id="n126" class="z5" transform="translate(376,654.7)"><circle r="15"/><text y="5">126</text></g>
<g id="n114" class="z5" transform="translate(416.5,654.7)"><circle r="15"/><text y="5">114</text></g>
<g id="n102" class="z5" transform="translate(456.9,654.7)"><circle r="15"/><text y="5">102</text></g>
<g id="n96" class="z5" transform="translate(497.4,654.7)"><circle r="15"/><text y="5">96</text></g>
<g id="n108" class="z5" transform="translate(537.8,654.7)"><circle r="15"/><text y="5">108</text></g>
<g id="n120" class="z5" transform="translate(578.2,654.7)"><circle r="15"/><text y="5">120</text></g>
<g id="n127" class="z5" transform="translate(618.7,654.7)"><circle r="15"/><text y="5">127</text></g>
<g id="n157" class="z5" transform="translate(659.1,654.7)"><circle r="15"/><text y="5">157</text></g>
<g id="n193" class="z5" transform="translate(699.6,654.7)"><circle r="15"/><text y="5">193</text></g>
<g id="n229" class="z5" transform="translate(740,654.7)"><circle r="15"/><text y="5">229</text></g>
<g id="n277" class="z4" transform="translate(780.4,654.7)"><circle r="15"/><text y="5">277</text></g>
<g id="n331" class="z4" transform="translate(820.9,654.7)"><circle r="15"/><text y="5">331</text></g>
<g id="n381" class="z3" transform="translate(861.3,654.7)"><circle r="15"/><text y="5">381</text></g>
<g id="n445" class="z1" transform="translate(901.8,654.7)"><circle r="15"/><text y="5">445</text></g>
<g id="n443" class="z1" transform="translate(113.2,687)"><circle r="15"/><text y="5">443</text></g>
<g id="n391" class="z2" transform="translate(153.6,687)"><circle r="15"/><text y="5">391</text></g>
<g id="n347" class="z3" transform="translate(194.1,687)"><circle r="15"/><text y="5">347</text></g>
<g id="n293" class="z4" transform="translate(234.5,687)"><circle r="15"/><text y="5">293</text></g>
<g id="n251" class="z5" transform="translate(274.9,687)"><circle r="15"/><text y="5">251</text></g>
<g id="n209" class="z5" transform="translate(315.4,687)"><circle r="15"/><text y="5">209</text></g>
<g id="n174" class="z5" transform="translate(355.8,687)"><circle r="15"/><text y="5">174</text></g>
<g id="n156" class="z5" transform="translate(396.3,687)"><circle r="15"/><text y="5">156</text></g>
<g id="n144" class="z5" transform="translate(436.7,687)"><circle r="15"/><text y="5">144</text></g>
<g id="n132" class="z5" transform="translate(477.1,687)"><circle r="15"/><text y="5">132</text></g>
<g id="n138" class="z5" transform="translate(517.6,687)"><circle r="15"/><text y="5">138</text></g>
<g id="n150" class="z5" transform="translate(558,687)"><circle r="15"/><text y="5">150</text></g>
<g id="n162" class="z5" transform="translate(598.5,687)"><circle r="15"/><text y="5">162</text></g>
<g id="n175" class="z5" transform="translate(638.9,687)"><circle r="15"/><text y="5">175</text></g>
<g id="n205" class="z5" transform="translate(679.3,687)"><circle r="15"/><text y="5">205</text></g>
<g id="n247" class="z5" transform="translate(719.8,687)"><circle r="15"/><text y="5">247</text></g>
<g id="n289" class="z4" transform="translate(760.2,687)"><circle r="15"/><text y="5">289</text></g>
<g id="n343" class="z4" transform="translate(800.7,687)"><circle r="15"/><text y="5">343</text></g>
<g id="n387" class="z3" transform="translate(841.1,687)"><circle r="15"/><text y="5">387</text></g>
<g id="n439" class="z1" transform="translate(881.5,687)"><circle r="15"/><text y="5">439</text></g>
<g id="n451" class="z1" transform="translate(133.4,719.4)"><circle r="15"/><text y="5">451</text></g>
<g id="n413" class="z2" transform="translate(173.8,719.4)"><circle r="15"/><text y="5">413</text></g>
<g id="n357" class="z3" transform="translate(214.3,719.4)"><circle r="15"/><text y="5">357</text></g>
<g id="n311" class="z4" transform="translate(254.7,719.4)"><circle r="15"/><text y="5">311</text></g>
<g id="n263" class="z4" transform="translate(295.2,719.4)"><circle r="15"/><text y="5">263</text></g>
<g id="n240" class="z5" transform="translate(335.6,719.4)"><circle r="15"/><text y="5">240</text></g>
<g id="n204" class="z5" transform="translate(376,719.4)"><circle r="15"/><text y="5">204</text></g>
<g id="n192" class="z5" transform="translate(416.5,719.4)"><circle r="15"/><text y="5">192</text></g>
<g id="n180" class="z5" transform="translate(456.9,719.4)"><circle r="15"/><text y="5">180</text></g>
<g id="n168" class="z5" transform="translate(497.4,719.4)"><circle r="15"/><text y="5">168</text></g>
<g id="n186" class="z5" transform="translate(537.8,719.4)"><circle r="15"/><text y="5">186</text></g>
<g id="n198" class="z5" transform="translate(578.2,719.4)"><circle r="15"/><text y="5">198</text></g>
<g id="n210" class="z5" transform="translate(618.7,719.4)"><circle r="15"/><text y="5">210</text></g>
<g id="n241" class="z5" transform="translate(659.1,719.4)"><circle r="15"/><text y="5">241</text></g>
<g id="n259" class="z4" transform="translate(699.6,719.4)"><circle r="15"/><text y="5">259</text></g>
<g id="n307" class="z4" transform="translate(740,719.4)"><circle r="15"/><text y="5">307</text></g>
<g id="n355" class="z3" transform="translate(780.4,719.4)"><circle r="15"/><text y="5">355</text></g>
<g id="n411" class="z2" transform="translate(820.9,719.4)"><circle r="15"/><text y="5">411</text></g>
<g id="n449" class="z1" transform="translate(861.3,719.4)"><circle r="15"/><text y="5">449</text></g>
<g id="n421" class="z2" transform="translate(194.1,751.7)"><circle r="15"/><text y="5">421</text></g>
<g id="n373" class="z3" transform="translate(234.5,751.7)"><circle r="15"/><text y="5">373</text></g>
<g id="n323" class="z4" transform="translate(274.9,751.7)"><circle r="15"/><text y="5">323</text></g>
<g id="n300" class="z4" transform="translate(315.4,751.7)"><circle r="15"/><text y="5">300</text></g>
<g id="n258" class="z4" transform="translate(355.8,751.7)"><circle r="15"/><text y="5">258</text></g>
<g id="n246" class="z5" transform="translate(396.3,751.7)"><circle r="15"/><text y="5">246</text></g>
<g id="n228" class="z5" transform="translate(436.7,751.7)"><circle r="15"/><text y="5">228</text></g>
<g id="n216" class="z5" transform="translate(477.1,751.7)"><circle r="15"/><text y="5">216</text></g>
<g id="n222" class="z5" transform="translate(517.6,751.7)"><circle r="15"/><text y="5">222</text></g>
<g id="n234" class="z5" transform="translate(558,751.7)"><circle r="15"/><text y="5">234</text></g>
<g id="n252" class="z5" transform="translate(598.5,751.7)"><circle r="15"/><text y="5">252</text></g>
<g id="n264" class="z4" transform="translate(638.9,751.7)"><circle r="15"/><text y="5">264</text></g>
<g id="n301" class="z4" transform="translate(679.3,751.7)"><circle r="15"/><text y="5">301</text></g>
<g id="n319" class="z4" transform="translate(719.8,751.7)"><circle r="15"/><text y="5">319</text></g>
<g id="n369" class="z3" transform="translate(760.2,751.7)"><circle r="15"/><text y="5">369</text></g>
<g id="n419" class="z2" transform="translate(800.7,751.7)"><circle r="15"/><text y="5">419</text></g>
<g id="n431" class="z1" transform="translate(214.3,784.1)"><circle r="15"/><text y="5">431</text></g>
<g id="n403" class="z2" transform="translate(254.7,784.1)"><circle r="15"/><text y="5">403</text></g>
<g id="n362" class="z3" transform="translate(295.2,784.1)"><circle r="15"/><text y="5">362</text></g>
<g id="n318" class="z4" transform="translate(335.6,784.1)"><circle r="15"/><text y="5">318</text></g>
<g id="n306" class="z4" transform="translate(376,784.1)"><circle r="15"/><text y="5">306</text></g>
<g id="n288" class="z4" transform="translate(416.5,784.1)"><circle r="15"/><text y="5">288</text></g>
<g id="n276" class="z4" transform="translate(456.9,784.1)"><circle r="15"/><text y="5">276</text></g>
<g id="n270" class="z4" transform="translate(497.4,784.1)"><circle r="15"/><text y="5">270</text></g>
<g id="n282" class="z4" transform="translate(537.8,784.1)"><circle r="15"/><text y="5">282</text></g>
<g id="n294" class="z4" transform="translate(578.2,784.1)"><circle r="15"/><text y="5">294</text></g>
<g id="n312" class="z4" transform="translate(618.7,784.1)"><circle r="15"/><text y="5">312</text></g>
<g id="n324" class="z4" transform="translate(659.1,784.1)"><circle r="15"/><text y="5">324</text></g>
<g id="n363" class="z3" transform="translate(699.6,784.1)"><circle r="15"/><text y="5">363</text></g>
<g id="n399" class="z2" transform="translate(740,784.1)"><circle r="15"/><text y="5">399</text></g>
<g id="n427" class="z1" transform="translate(780.4,784.1)"><circle r="15"/><text y="5">427</text></g>
<g id="n398" class="z2" transform="translate(315.4,816.4)"><circle r="15"/><text y="5">398</text></g>
<g id="n368" class="z3" transform="translate(355.8,816.4)"><circle r="15"/><text y="5">368</text></g>
<g id="n354" class="z3" transform="translate(396.3,816.4)"><circle r="15"/><text y="5">354</text></g>
<g id="n342" class="z3" transform="translate(436.7,816.4)"><circle r="15"/><text y="5">342</text></g>
<g id="n330" class="z4" transform="translate(477.1,816.4)"><circle r="15"/><text y="5">330</text></g>
<g id="n336" class="z4" transform="translate(517.6,816.4)"><circle r="15"/><text y="5">336</text></g>
<g id="n348" class="z4" transform="translate(558,816.4)"><circle r="15"/><text y="5">348</text></g>
<g id="n374" class="z3" transform="translate(638.9,816.4)"><circle r="15"/><text y="5">374</text></g>
<g id="n404" class="z2" transform="translate(679.3,816.4)"><circle r="15"/><text y="5">404</text></g>
<g id="n423" class="z1" transform="translate(719.8,816.4)"><circle r="15"/><text y="5">423</text></g>
<g id="n418" class="z2" transform="translate(376,848.8)"><circle r="15"/><text y="5">418</text></g>
<g id="n410" class="z2" transform="translate(416.5,848.8)"><circle r="15"/><text y="5">410</text></g>
<g id="n386" class="z2" transform="translate(456.9,848.8)"><circle r="15"/><text y="5">386</text></g>
<g id="n380" class="z3" transform="translate(497.4,848.8)"><circle r="15"/><text y="5">380</text></g>
<g id="n392" class="z2" transform="translate(537.8,848.8)"><circle r="15"/><text y="5">392</text></g>
<g id="n432" class="z1" transform="translate(659.1,848.8)"><circle r="15"/><text y="5">432</text></g>
<g id="n438" class="z1" transform="translate(477.1,881.1)"><circle r="15"/><text y="5">438</text></g>
<g id="n444" class="z1" transform="translate(517.6,881.1)"><circle r="15"/><text y="5">444</text></g>
</g>
<g id="legend">
<rect x="108" y="948" width="778" height="55" fill="#fff" stroke="#333" stroke-width="1.5"/>
<g class="nodes">
<g class="z1"><circle cx="146.5" cy="977.5" r="6"/></g>
<g class="z2"><circle cx="304.5" cy="977.5" r="6"/></g>
<g class="z3"><circle cx="459" cy="977.5" r="6"/></g>
<g class="z4"><circle cx="614.5" cy="977.5" r="6"/></g>
<g class="z5"><circle cx="770" cy="977.5" r="6"/></g>
</g>
<text class="lg" x="153.5" y="986">Zona 1</text>
<text class="lg" x="317.5" y="986">Zona 2</text>
<text class="lg" x="472.5" y="986">Zona 3</text>
<text class="lg" x="622" y="986">Zona 4</text>
<text class="lg" x="784.5" y="986">Zona 5</text>
</g>
</svg>
